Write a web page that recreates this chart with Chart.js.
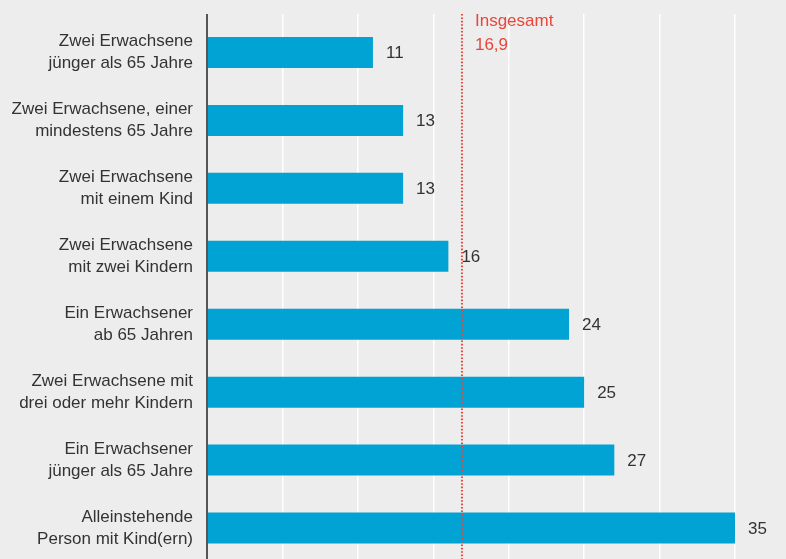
<!DOCTYPE html>
<html lang="de">

<head>
    <meta charset="UTF-8">
    <title>Armutsgefährdung nach Haushaltstyp</title>
    <script src="https://cdn.jsdelivr.net/npm/chart.js"></script>
    <style>
        html, body { margin: 0; padding: 0; background: #ecedec; overflow: hidden; }
        #wrap { position: relative; width: 786px; height: 562px; }
    </style>
</head>

<body>
    <div id="wrap">
        <canvas id="householdChart"></canvas>
    </div>
    <script>
        // Haushaltstypen (zweizeilige Beschriftung)
        const categories = [
            ['Zwei Erwachsene', 'jünger als 65 Jahre'],
            ['Zwei Erwachsene, einer', 'mindestens 65 Jahre'],
            ['Zwei Erwachsene', 'mit einem Kind'],
            ['Zwei Erwachsene', 'mit zwei Kindern'],
            ['Ein Erwachsener', 'ab 65 Jahren'],
            ['Zwei Erwachsene mit', 'drei oder mehr Kindern'],
            ['Ein Erwachsener', 'jünger als 65 Jahre'],
            ['Alleinstehende', 'Person mit Kind(ern)']
        ];
        const rates = [11, 13, 13, 16, 24, 25, 27, 35];
        const totalRate = 16.9;
        const totalLabel = ['Insgesamt', '16,9'];
        // senkrechte Hilfslinien
        const gridValues = [0, 5, 10, 15, 20, 25, 30, 35];

        const textColor = '#333333';
        const fontFamily = '"Liberation Sans", Arial, Helvetica, sans-serif';

        // Wert rechts neben jedem Balken
        const valueLabels = {
            id: 'valueLabels',
            afterDatasetsDraw(chart) {
                const ctx = chart.ctx;
                const meta = chart.getDatasetMeta(0);
                ctx.save();
                ctx.font = '17px ' + fontFamily;
                ctx.fillStyle = textColor;
                ctx.textAlign = 'left';
                ctx.textBaseline = 'middle';
                meta.data.forEach((bar, i) => {
                    ctx.fillText(String(rates[i]), bar.x + 13, bar.y + 1);
                });
                ctx.restore();
            }
        };

        // gepunktete Linie für den Gesamtwert
        const totalLine = {
            id: 'totalLine',
            afterDatasetsDraw(chart) {
                const ctx = chart.ctx;
                const x = chart.scales.x.getPixelForValue(totalRate);
                ctx.save();
                ctx.strokeStyle = '#e8463a';
                ctx.lineWidth = 2;
                ctx.setLineDash([1.6, 1.8]);
                ctx.beginPath();
                ctx.moveTo(x, 14);
                ctx.lineTo(x, chart.height);
                ctx.stroke();
                ctx.setLineDash([]);
                ctx.font = '17px ' + fontFamily;
                ctx.fillStyle = '#e8463a';
                ctx.textAlign = 'left';
                ctx.textBaseline = 'alphabetic';
                ctx.fillText(totalLabel[0], x + 13, 26);
                ctx.fillText(totalLabel[1], x + 13, 50);
                ctx.restore();
            }
        };

        new Chart(document.getElementById('householdChart'), {
            type: 'bar',
            data: {
                labels: categories,
                datasets: [{
                    data: rates,
                    backgroundColor: '#00a3d3',
                    borderWidth: 0,
                    barPercentage: 0.457,
                    categoryPercentage: 1
                }]
            },
            options: {
                indexAxis: 'y',
                responsive: true,
                maintainAspectRatio: false,
                animation: false,
                layout: { padding: { top: 14, right: 0, bottom: 0, left: 0 } },
                plugins: {
                    legend: { display: false },
                    tooltip: { enabled: false }
                },
                scales: {
                    x: {
                        position: 'top',
                        min: 0,
                        max: 38.38,
                        ticks: { display: false, stepSize: 5 },
                        afterBuildTicks: (scale) => {
                            scale.ticks = gridValues.map(v => ({ value: v }));
                        },
                        grid: {
                            drawTicks: true,
                            tickLength: 4.5,
                            color: (c) => c.tick && c.tick.value === 0 ? '#555555' : '#ffffff',
                            lineWidth: (c) => c.tick && c.tick.value === 0 ? 2 : 1.5
                        },
                        border: { display: false }
                    },
                    y: {
                        afterFit: (scale) => {
                            scale.width = 207;
                            // Beschriftungen dürfen über den Plotbereich hinausragen
                            scale.paddingTop = 0;
                            scale.paddingBottom = 0;
                        },
                        grid: { display: false, drawTicks: false },
                        border: { display: false },
                        ticks: {
                            padding: 14,
                            color: textColor,
                            font: { family: fontFamily, size: 17, lineHeight: 1.3 }
                        }
                    }
                }
            },
            plugins: [valueLabels, totalLine]
        });
    </script>
</body>

</html>
